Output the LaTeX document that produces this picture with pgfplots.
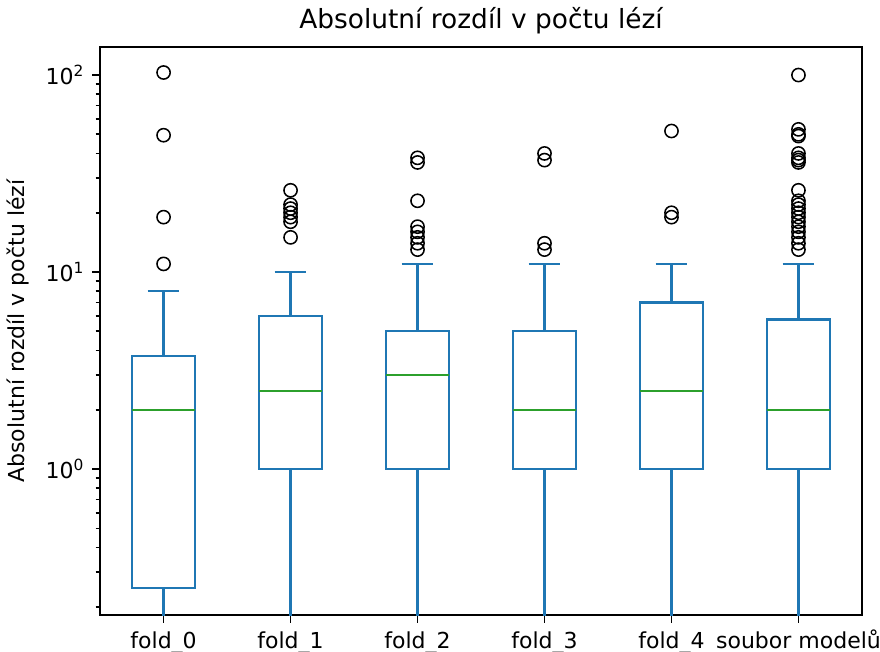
\documentclass[border=0pt]{standalone}
\usepackage{fontspec}
\setmainfont{DejaVu Sans}
\usepackage{pgfplots}
\pgfplotsset{compat=1.18}
\usepgfplotslibrary{statistics}
\definecolor{mplblue}{HTML}{1F77B4}
\definecolor{mplgreen}{HTML}{2CA02C}
\begin{document}
\begin{tikzpicture}
\useasboundingbox (-45.5pt,-16.4pt) rectangle (354.5pt,279.6pt);
\begin{axis}[
  scale only axis,
  width=346.3pt, height=258.2pt,
  ymode=log,
  xmin=0.5, xmax=6.5,
  ymin=0.1815, ymax=138.7,
  xtick={1,2,3,4,5,6},
  xticklabels={fold\_0,fold\_1,fold\_2,fold\_3,fold\_4,soubor modelů},
  ytick={1,10,100},
  yticklabels={10\textsuperscript{0},10\textsuperscript{1},10\textsuperscript{2}},
  minor ytick={0.2,0.3,0.4,0.5,0.6,0.7,0.8,0.9,2,3,4,5,6,7,8,9,20,30,40,50,60,70,80,90},
  tick pos=left,
  tick align=outside,
  major tick length=3.5pt,
  minor tick length=2pt,
  every tick/.style={black, line width=0.8pt},
  axis line style={line width=0.8pt},
  tick label style={font=\fontsize{10}{12}\selectfont},
  xticklabel style={anchor=base, yshift=-11.8pt},
  title={Absolutní rozdíl v počtu lézí},
  every axis title/.style={font=\fontsize{12}{14}\selectfont, at={(axis description cs:0.5,1)}, anchor=base, yshift=8.4pt},
  ylabel={Absolutní rozdíl v počtu lézí},
  ylabel style={font=\fontsize{10}{12}\selectfont, at={(axis description cs:-0.1077,0.5)}, anchor=center},
  boxplot/draw direction=y,
  boxplot/box extend=0.5,
  boxplot/whisker extend=0.25,
  boxplot/every median/.style={draw=mplgreen, line width=1pt},
]
\pgfplotsset{mybox/.style={draw=mplblue, line width=1pt, solid, mark=o, mark size=3pt, mark options={draw=black, line width=0.7pt, solid}}}
\addplot[mybox, boxplot prepared={draw position=1, lower whisker=0.05, lower quartile=0.25, median=2, upper quartile=3.75, upper whisker=8}]
  coordinates {(1,103) (1,49.5) (1,19) (1,11)};
\addplot[mybox, boxplot prepared={draw position=2, lower whisker=0.05, lower quartile=1, median=2.5, upper quartile=6, upper whisker=10}]
  coordinates {(2,26) (2,22) (2,21) (2,20) (2,19) (2,18) (2,15)};
\addplot[mybox, boxplot prepared={draw position=3, lower whisker=0.05, lower quartile=1, median=3, upper quartile=5, upper whisker=11}]
  coordinates {(3,38) (3,36) (3,23) (3,17) (3,16) (3,15) (3,14) (3,13)};
\addplot[mybox, boxplot prepared={draw position=4, lower whisker=0.05, lower quartile=1, median=2, upper quartile=5, upper whisker=11}]
  coordinates {(4,40) (4,37) (4,14) (4,13)};
\addplot[mybox, boxplot prepared={draw position=5, lower whisker=0.05, lower quartile=1, median=2.5, upper quartile=7, upper whisker=11}]
  coordinates {(5,52) (5,20) (5,19)};
\addplot[mybox, boxplot prepared={draw position=6, lower whisker=0.05, lower quartile=1, median=2, upper quartile=5.75, upper whisker=11}]
  coordinates {(6,100) (6,53) (6,50) (6,49) (6,40) (6,38) (6,37) (6,36) (6,26) (6,23) (6,22) (6,21) (6,20) (6,19) (6,18) (6,17) (6,16) (6,15) (6,14) (6,13)};
\end{axis}
\end{tikzpicture}
\end{document}
